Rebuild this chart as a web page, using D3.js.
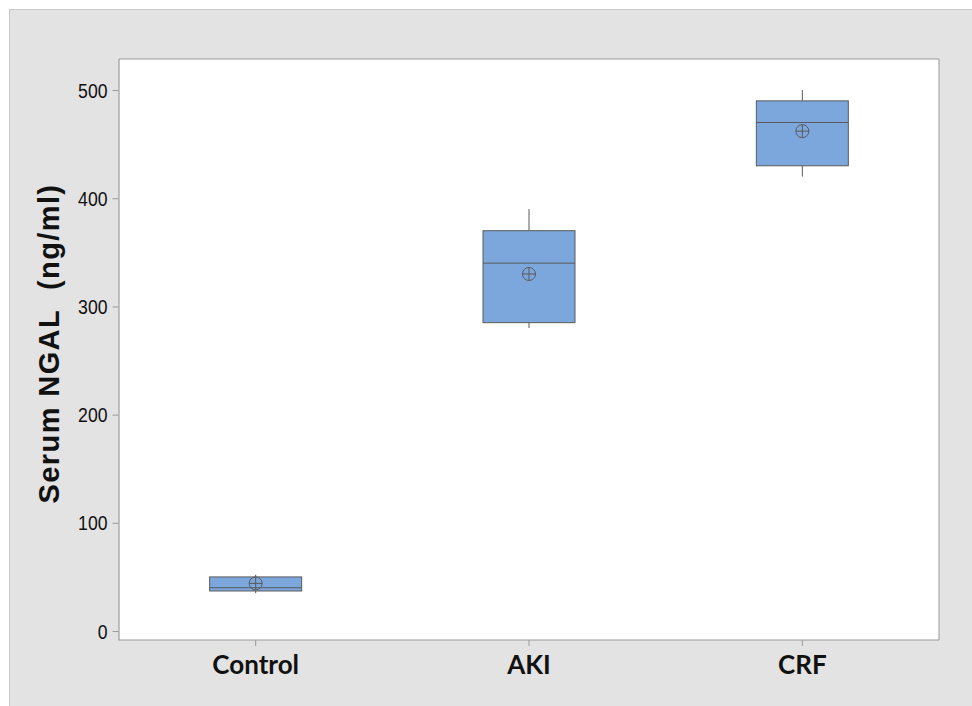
<!DOCTYPE html>
<html>
<head>
<meta charset="utf-8">
<script src="https://cdn.jsdelivr.net/npm/d3@7"></script>
<style>
  html, body { margin: 0; padding: 0; background: #ffffff; }
  svg { display: block; }
</style>
</head>
<body>
<svg id="chart" width="972" height="706"></svg>
<script>
// Serum NGAL by patient group: box plot summaries
const groups = ["Control", "AKI", "CRF"];
const whiskerLow = [35, 280, 420];
const q1 = [37, 285, 430];
const median = [40, 340, 470];
const q3 = [50, 370, 490];
const whiskerHigh = [52, 390, 500];
const means = [44, 330, 462];
const yTicks = [0, 100, 200, 300, 400, 500];

const svg = d3.select("#chart");
const W = 972, H = 706;
const plot = { left: 119, top: 59, right: 939, bottom: 640 };

// outer panel
svg.append("rect")
  .attr("x", 9.5).attr("y", 9.5)
  .attr("width", W).attr("height", H)
  .attr("fill", "#e3e3e3").attr("stroke", "#c8c8c8");

// data area
svg.append("rect")
  .attr("x", plot.left).attr("y", plot.top)
  .attr("width", plot.right - plot.left).attr("height", plot.bottom - plot.top)
  .attr("fill", "#ffffff");

const x = d3.scaleBand().domain(groups).range([plot.left, plot.right]);
const y = d3.scaleLinear().domain([-8.3, 528.7]).range([plot.bottom, plot.top]);

// frame
const frame = "#9a9a9a";
svg.append("line")
  .attr("x1", plot.left).attr("x2", plot.left)
  .attr("y1", plot.top).attr("y2", plot.bottom + 0.5)
  .attr("stroke", frame).attr("stroke-width", 1.2);
svg.append("line")
  .attr("x1", plot.left).attr("x2", plot.right)
  .attr("y1", plot.bottom).attr("y2", plot.bottom)
  .attr("stroke", frame).attr("stroke-width", 1.2);
svg.append("line")
  .attr("x1", plot.right).attr("x2", plot.right)
  .attr("y1", plot.top).attr("y2", plot.bottom)
  .attr("stroke", frame).attr("stroke-width", 1);
svg.append("line")
  .attr("x1", plot.left).attr("x2", plot.right)
  .attr("y1", plot.top).attr("y2", plot.top)
  .attr("stroke", frame).attr("stroke-width", 1);

// y axis
const yAxis = d3.axisLeft(y).tickValues(yTicks).tickSize(6).tickPadding(5);
const gy = svg.append("g").attr("transform", `translate(${plot.left - 0.5},0)`).call(yAxis);
gy.select(".domain").remove();
gy.selectAll(".tick line").attr("stroke", frame);
gy.selectAll(".tick text")
  .attr("font-family", "'Liberation Sans', Arial, sans-serif")
  .attr("font-size", 20).attr("fill", "#111")
  .attr("dy", "0.35em")
  .attr("lengthAdjust", "spacingAndGlyphs")
  .attr("textLength", d => String(d).length * 9.8);

// x axis
const xAxis = d3.axisBottom(x).tickSize(6).tickPadding(10);
const gx = svg.append("g").attr("transform", `translate(0,${plot.bottom})`).call(xAxis);
gx.select(".domain").remove();
gx.selectAll(".tick line").attr("stroke", frame);
gx.selectAll(".tick text")
  .attr("font-family", "Lato, 'Open Sans', sans-serif")
  .attr("font-weight", "bold")
  .attr("font-size", 26).attr("fill", "#111");

// y title
svg.append("text")
  .attr("transform", `translate(59,${(plot.top + plot.bottom) / 2 - 6}) rotate(-90)`)
  .attr("text-anchor", "middle")
  .attr("font-family", "'Liberation Sans', Arial, sans-serif")
  .attr("font-weight", "bold")
  .attr("font-size", 29)
  .attr("letter-spacing", 1.4)
  .attr("fill", "#111")
  .text("Serum NGAL\u00a0 (ng/ml)");

// boxes
const boxW = 92;
const g = svg.append("g");
groups.forEach((name, i) => {
  const cx = x(name) + x.bandwidth() / 2;
  const stroke = "#5a5a5a";
  g.append("line")
    .attr("x1", cx).attr("x2", cx)
    .attr("y1", y(whiskerHigh[i])).attr("y2", y(q3[i]))
    .attr("stroke", stroke).attr("stroke-width", 1);
  g.append("line")
    .attr("x1", cx).attr("x2", cx)
    .attr("y1", y(q1[i])).attr("y2", y(whiskerLow[i]))
    .attr("stroke", stroke).attr("stroke-width", 1);
  g.append("rect")
    .attr("x", cx - boxW / 2).attr("y", y(q3[i]))
    .attr("width", boxW).attr("height", y(q1[i]) - y(q3[i]))
    .attr("fill", "#7ba7dc").attr("stroke", stroke).attr("stroke-width", 1);
  g.append("line")
    .attr("x1", cx - boxW / 2).attr("x2", cx + boxW / 2)
    .attr("y1", y(median[i])).attr("y2", y(median[i]))
    .attr("stroke", stroke).attr("stroke-width", 1);
  // mean marker: circle with cross
  const my = y(means[i]), r = 6.5;
  g.append("circle").attr("cx", cx).attr("cy", my).attr("r", r)
    .attr("fill", "none").attr("stroke", stroke).attr("stroke-width", 1);
  g.append("line").attr("x1", cx - r).attr("x2", cx + r).attr("y1", my).attr("y2", my)
    .attr("stroke", stroke).attr("stroke-width", 1);
  g.append("line").attr("x1", cx).attr("x2", cx).attr("y1", my - r).attr("y2", my + r)
    .attr("stroke", stroke).attr("stroke-width", 1);
});
</script>
</body>
</html>
